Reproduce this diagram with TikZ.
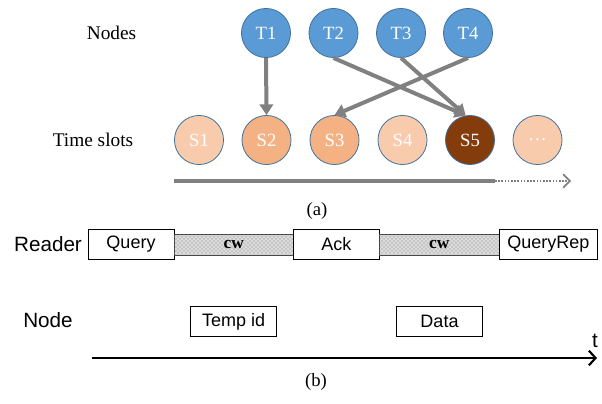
\documentclass[tikz,border=0pt]{standalone}
\usepackage{fontspec}
\setmainfont{Liberation Serif}
\setsansfont{Liberation Sans}
\usetikzlibrary{arrows.meta,patterns}
\definecolor{tblue}{HTML}{5B9BD5}
\definecolor{tedge}{HTML}{41719C}
\definecolor{slight}{HTML}{F8CBAD}
\definecolor{smid}{HTML}{F4B183}
\definecolor{sdark}{HTML}{843C0C}
\definecolor{linkgray}{HTML}{808080}
\definecolor{cwfill}{HTML}{DADADA}
\tikzset{
  tnode/.style={circle,draw=tedge,line width=0.6pt,fill=tblue,minimum size=36.8pt,inner sep=0pt,text=white,font=\fontsize{14}{16}\selectfont},
  snode/.style={circle,draw=tedge,line width=0.6pt,minimum size=36.8pt,inner sep=0pt,text=white,font=\fontsize{14}{16}\selectfont},
  link/.style={draw=linkgray,line width=3pt,-{Triangle[length=8pt,width=10pt]}},
  rowlabel/.style={font=\fontsize{14.5}{17}\selectfont},
  sidelabel/.style={font=\sffamily\fontsize{15.5}{18}\selectfont},
  msg/.style={draw=black,line width=0.7pt,fill=white,minimum height=22.5pt,inner sep=0pt,font=\sffamily\fontsize{13.5}{15}\selectfont},
  cwbar/.style={draw=black!75,line width=0.7pt,fill=cwfill,postaction={pattern=crosshatch dots,pattern color=black!45},minimum height=15.75pt,inner sep=0pt,font=\bfseries\fontsize{13}{15}\selectfont},
  caption/.style={font=\fontsize{14}{17}\selectfont}
}
\begin{document}
\begin{tikzpicture}[x=0.75pt,y=-0.75pt]
\useasboundingbox (0,0) rectangle (602,403);

% (a) nodes and time slots
\node[rowlabel] (lnodes) at (111.5,32.5) {Nodes};
\node[rowlabel] (lslots) at (93,140) {Time slots};

\node[tnode] (t1) at (266,33) {T1};
\node[tnode] (t2) at (333.5,33) {T2};
\node[tnode] (t3) at (401,33) {T3};
\node[tnode] (t4) at (468,33) {T4};

\node[snode,fill=slight] (s1) at (199,140) {S1};
\node[snode,fill=smid]   (s2) at (266.5,140) {S2};
\node[snode,fill=smid]   (s3) at (334.5,140) {S3};
\node[snode,fill=slight] (s4) at (402.5,140) {S4};
\node[snode,fill=sdark]  (s5) at (470,140) {S5};
\node[snode,fill=slight] (s6) at (537.5,140) {\dots};

\draw[link] (t1.south) -- (s2.north);
\draw[link] (t2.south) -- (s5.100);
\draw[link] (t3.south) -- (s5.100);
\draw[link] (t4.south) -- (s3.north);

% time axis of (a)
\coordinate (ta0) at (174,181);
\coordinate (ta1) at (495,181);
\coordinate (ta2) at (571,181);
\draw[linkgray,line width=2.4pt] (ta0) -- (ta1);
\draw[linkgray,line width=1.3pt,dash pattern=on 1.2pt off 1.2pt,-{Straight Barb[length=5pt,width=10pt,line width=1.3pt]}] (ta1) -- (ta2);
\node[caption] (capa) at (317,211) {(a)};

% (b) reader / node exchange
\node[sidelabel] (lreader) at (48,244) {Reader};
\node[sidelabel] (lnode) at (48,320) {Node};

\node[msg,minimum width=64.5pt] (query) at (131,244.5) {Query};
\node[cwbar,minimum width=89.5pt] (cw1) at (233.7,244.5) {cw};
\node[msg,minimum width=64.5pt] (ack) at (336.3,244.5) {Ack};
\node[cwbar,minimum width=90pt] (cw2) at (439.3,244.5) {cw};
\node[msg,minimum width=73.5pt] (qrep) at (548.3,244.5) {QueryRep};

\node[msg,minimum width=64.5pt] (tempid) at (233.7,321.7) {Temp id};
\node[msg,minimum width=64.2pt] (data) at (439.5,321.7) {Data};

\coordinate (tb0) at (92,358);
\coordinate (tb1) at (597,358);
\draw[line width=2pt,-{Straight Barb[length=5pt,width=11pt,line width=1.6pt]}] (tb0) -- (tb1);
\node[sidelabel] (tlabel) at (595,341) {t};
\node[caption] (capb) at (316,382) {(b)};
\end{tikzpicture}
\end{document}
